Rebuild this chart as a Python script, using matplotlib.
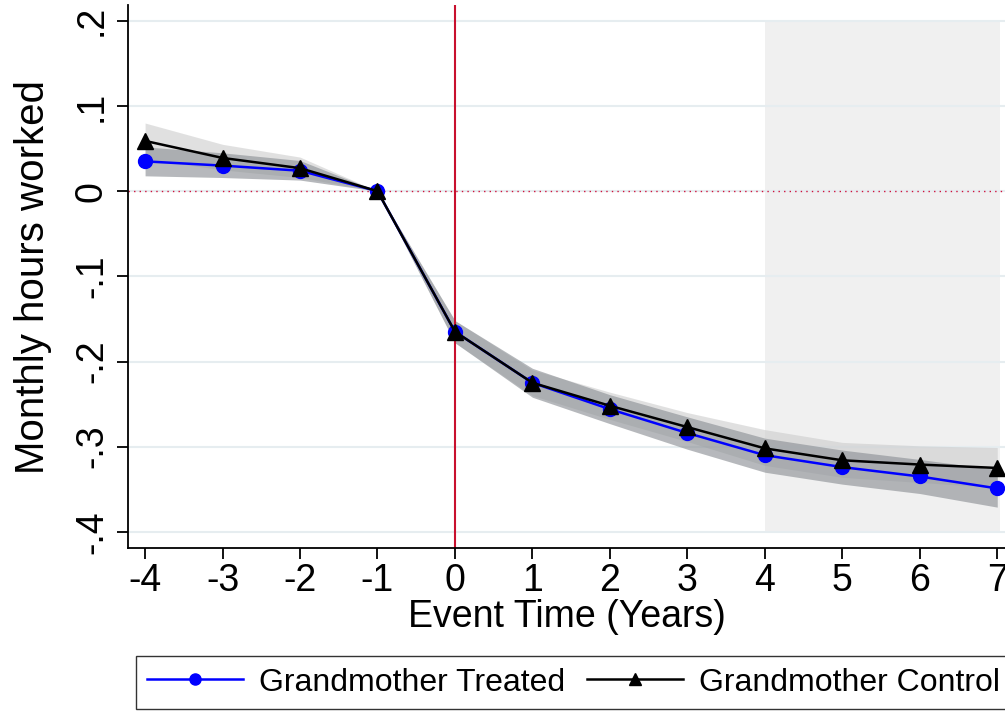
import numpy as np
import matplotlib
matplotlib.use("Agg")
import matplotlib.pyplot as plt

plt.rcParams['font.family'] = ['Liberation Sans', 'DejaVu Sans']

# event time
years = [-4, -3, -2, -1, 0, 1, 2, 3, 4, 5, 6, 7]

# point estimates
treated = [0.035, 0.030, 0.024, 0.0, -0.165, -0.225, -0.256, -0.284, -0.310, -0.324, -0.335, -0.349]
control = [0.059, 0.039, 0.027, 0.0, -0.165, -0.225, -0.252, -0.277, -0.302, -0.316, -0.321, -0.325]

# confidence bands (lower / upper)
treated_lo = [0.018, 0.016, 0.013, 0.0, -0.178, -0.242, -0.273, -0.303, -0.330, -0.344, -0.355, -0.371]
treated_hi = [0.052, 0.045, 0.036, 0.0, -0.152, -0.208, -0.239, -0.265, -0.290, -0.304, -0.315, -0.327]
control_lo = [0.038, 0.025, 0.016, 0.0, -0.178, -0.240, -0.268, -0.294, -0.322, -0.336, -0.342, -0.348]
control_hi = [0.080, 0.055, 0.040, 0.0, -0.152, -0.210, -0.236, -0.260, -0.280, -0.295, -0.299, -0.301]

yticks = [0.2, 0.1, 0, -0.1, -0.2, -0.3, -0.4]
ytick_labels = ['.2', '.1', '0', '-.1', '-.2', '-.3', '-.4']

fig = plt.figure(figsize=(10.05, 7.12), dpi=100)
ax = fig.add_axes([0.1274, 0.2303, 0.8726, 0.7620])

# grey shaded post-period
ax.fill_between([4, 7.04], -0.4, 0.2, color='#f0f0f0', zorder=0, linewidth=0)

# grid lines
for yv in yticks:
    ax.axhline(yv, color='#e6edf0', linewidth=1.5, zorder=0.5)

# bands
ax.fill_between(years, control_lo, control_hi, color='#c8c8c8', alpha=0.55, linewidth=0, zorder=1)
ax.fill_between(years, treated_lo, treated_hi, color='#8f9398', alpha=0.65, linewidth=0, zorder=1.2)

ax.axhline(0, color='#d0103a', linestyle=(0, (1, 3)), linewidth=1.0, zorder=1.5)
ax.axvline(0, color='#c8102e', linewidth=1.5, zorder=1.6)

ax.plot(years, treated, color='#0000ff', marker='o', markersize=10, linewidth=1.8,
        label='Grandmother Treated', zorder=3)
ax.plot(years, control, color='black', marker='^', markersize=11, linewidth=1.8,
        label='Grandmother Control', zorder=4)

ax.set_xlim(-4.22, 7.1)
ax.set_ylim(-0.419, 0.218)
ax.set_xticks(years)
ax.set_xticklabels([str(v) for v in years])
ax.set_yticks(yticks)
ax.set_yticklabels(ytick_labels, rotation=90, va='center')
ax.tick_params(axis='both', labelsize=27, length=8, width=1.3, direction='out')
ax.tick_params(axis='x', pad=3)
ax.tick_params(axis='y', pad=5)

for side in ['top', 'right']:
    ax.spines[side].set_visible(False)
for side in ['left', 'bottom']:
    ax.spines[side].set_linewidth(1.3)

ax.set_xlabel('Event Time (Years)', fontsize=27, labelpad=0)
ax.set_ylabel('Monthly hours worked', fontsize=29, labelpad=16)

handles, labels = ax.get_legend_handles_labels()
leg = fig.legend(handles, labels, loc='upper center', bbox_to_anchor=(0.5705, 0.078), ncol=2,
                 fontsize=23, frameon=True, fancybox=False, edgecolor='black',
                 handlelength=3.0, handletextpad=0.5, columnspacing=0.7, borderpad=0.35,
                 borderaxespad=0, markerscale=0.8)
leg.get_frame().set_linewidth(1.0)

fig.savefig('out.png', dpi=100)
